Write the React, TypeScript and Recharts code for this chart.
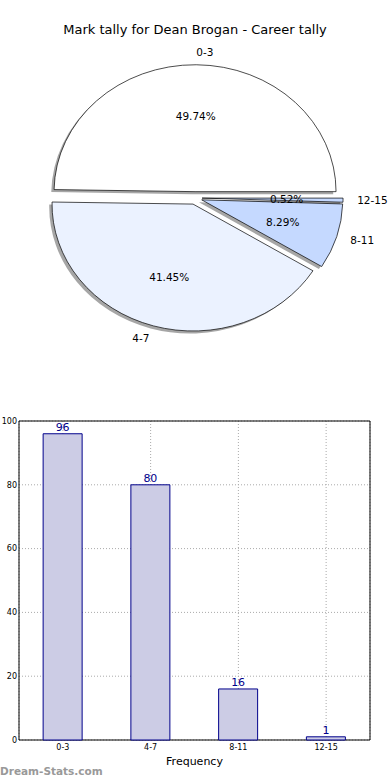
import React from "react";
import {
  Bar,
  BarChart,
  CartesianGrid,
  LabelList,
  Pie,
  PieChart,
  ReferenceArea,
  XAxis,
  YAxis,
} from "recharts";

const categories = ["0-3", "4-7", "8-11", "12-15"];
const tallies = [96, 80, 16, 1];
const sliceColors = ["#FFFFFF", "#EBF2FF", "#C5D9FF", "#C5D9FF"];
const yTicks = [0, 20, 40, 60, 80, 100];

const pieData = categories.map((name, i) => ({ name, value: tallies[i], fill: sliceColors[i] }));
const barData = categories.map((name, i) => ({ name, count: tallies[i] }));

const RAD = Math.PI / 180;
const SQUASH = 0.9; // source pie is an ellipse, a bit flatter than wide
const EXPLODE = 0.05;
const FONT = "'DejaVu Sans', Verdana, sans-serif";

// elliptical wedge, pushed out along its mid angle
function wedgePath(cx: number, cy: number, r: number, start: number, end: number, dx = 0, dy = 0) {
  const rx = r;
  const ry = r * SQUASH;
  const mid = ((start + end) / 2) * RAD;
  const ox = cx + EXPLODE * rx * Math.cos(mid) + dx;
  const oy = cy - EXPLODE * ry * Math.sin(mid) + dy;
  const x1 = ox + rx * Math.cos(start * RAD);
  const y1 = oy - ry * Math.sin(start * RAD);
  const x2 = ox + rx * Math.cos(end * RAD);
  const y2 = oy - ry * Math.sin(end * RAD);
  const large = Math.abs(end - start) > 180 ? 1 : 0;
  return `M${ox},${oy} L${x1},${y1} A${rx},${ry} 0 ${large} 0 ${x2},${y2} Z`;
}

const ShadowShape = (props: any) => {
  const { cx, cy, outerRadius, startAngle, endAngle } = props;
  return (
    <path
      d={wedgePath(cx, cy, outerRadius, startAngle, endAngle, -2.8, 2.5)}
      fill="#4d4d4d"
      fillOpacity={0.5}
      stroke="none"
    />
  );
};

const WedgeShape = (props: any) => {
  const { cx, cy, outerRadius, startAngle, endAngle, payload } = props;
  return (
    <path
      d={wedgePath(cx, cy, outerRadius, startAngle, endAngle)}
      fill={payload?.fill ?? props.fill}
      stroke="#000"
      strokeWidth={0.7}
    />
  );
};

const renderLabels = (props: any) => {
  const { cx, cy, midAngle, outerRadius, percent, name, payload } = props;
  const rx = outerRadius;
  const ry = outerRadius * SQUASH;
  const c = Math.cos(midAngle * RAD);
  const s = Math.sin(midAngle * RAD);
  const px = cx + (0.6 + EXPLODE) * rx * c;
  const py = cy - (0.6 + EXPLODE) * ry * s;
  const nx = cx + (1.1 + EXPLODE) * rx * c;
  const ny = cy - (1.1 + EXPLODE) * ry * s;
  return (
    <g>
      <text x={px} y={py} textAnchor="middle" dominantBaseline="central" fontSize={10.5} fill="#000">
        {`${(percent * 100).toFixed(2)}%`}
      </text>
      <text x={nx} y={ny} textAnchor={c > 0 ? "start" : "end"} dominantBaseline="central" fontSize={10.5} fill="#000">
        {name ?? payload?.name}
      </text>
    </g>
  );
};

export default function App() {
  return (
    <div
      style={{
        position: "absolute",
        left: 0,
        top: 0,
        width: 390,
        height: 780,
        background: "#fff",
        fontFamily: FONT,
        overflow: "hidden",
      }}
    >
      <div
        style={{
          position: "absolute",
          top: 22,
          left: 0,
          width: 390,
          textAlign: "center",
          fontSize: 13,
          lineHeight: "16px",
          color: "#000",
        }}
      >
        Mark tally for Dean Brogan - Career tally
      </div>

      <div style={{ position: "absolute", top: 0, left: 0 }}>
        <PieChart width={390} height={390} margin={{ top: 0, right: 0, bottom: 0, left: 0 }}>
          <Pie
            data={pieData}
            dataKey="value"
            nameKey="name"
            cx={195}
            cy={198}
            outerRadius={141}
            startAngle={0}
            endAngle={360}
            shape={ShadowShape}
            stroke="none"
            isAnimationActive={false}
          />
          <Pie
            data={pieData}
            dataKey="value"
            nameKey="name"
            cx={195}
            cy={198}
            outerRadius={141}
            startAngle={0}
            endAngle={360}
            shape={WedgeShape}
            label={renderLabels}
            labelLine={false}
            isAnimationActive={false}
          />
        </PieChart>
      </div>

      <div style={{ position: "absolute", top: 410, left: 0 }}>
        <BarChart
          width={390}
          height={370}
          data={barData}
          margin={{ top: 11, right: 20, left: 0, bottom: 10 }}
          barCategoryGap="27.5%"
        >
          <CartesianGrid stroke="#aaaaaa" strokeDasharray="1 2" />
          <XAxis
            dataKey="name"
            interval={0}
            height={30}
            axisLine={false}
            tickLine={false}
            tickSize={0}
            tickMargin={4}
            tick={{ fontSize: 8, fill: "#000" }}
            label={{ value: "Frequency", position: "insideBottom", offset: 5, fontSize: 11, fill: "#000" }}
          />
          <YAxis
            domain={[0, 100]}
            ticks={yTicks}
            width={19}
            axisLine={false}
            tickLine={false}
            tickSize={0}
            tickMargin={2}
            tick={{ fontSize: 8, fill: "#000" }}
          />
          <Bar dataKey="count" fill="#CCCCE5" stroke="#00008B" strokeWidth={1} isAnimationActive={false}>
            <LabelList dataKey="count" position="top" offset={3} fill="#00008B" fontSize={11} />
          </Bar>
          <ReferenceArea
            x1="0-3"
            x2="12-15"
            y1={0}
            y2={100}
            fill="none"
            stroke="#000"
            strokeWidth={1}
            ifOverflow="visible"
          />
        </BarChart>
      </div>

      <div
        style={{
          position: "absolute",
          top: 763,
          left: 0,
          fontSize: 10.5,
          lineHeight: "16px",
          fontWeight: "bold",
          color: "#999",
        }}
      >
        Dream-Stats.com
      </div>
    </div>
  );
}
